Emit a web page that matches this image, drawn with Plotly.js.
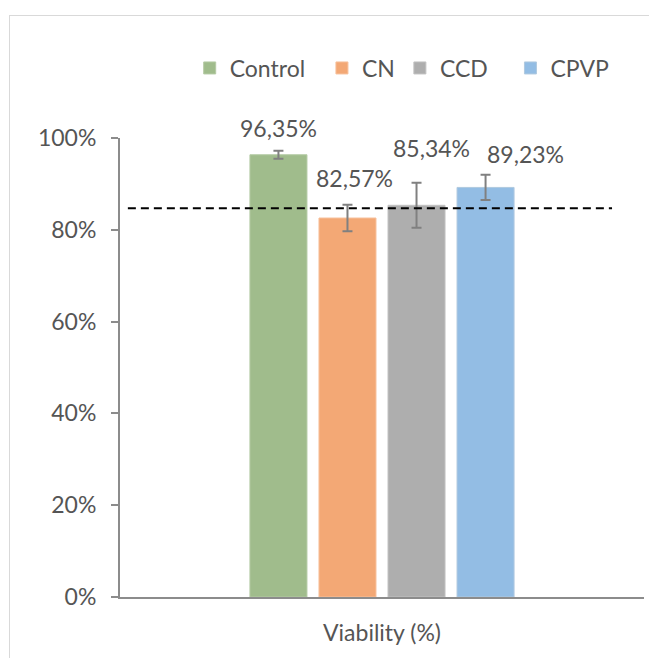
<!DOCTYPE html>
<html>
<head>
<meta charset="utf-8">
<script src="https://cdn.plot.ly/plotly-3.0.1.min.js"></script>
<style>
  html, body { margin: 0; padding: 0; background: #ffffff; }
  #wrap { position: relative; width: 649px; height: 658px; overflow: hidden; }
  #chart { position: absolute; left: 0; top: 0; width: 649px; height: 658px; }
  #frame { position: absolute; left: 9px; top: 15px; width: 720px; height: 720px;
           border: 1.5px solid #d9d9d9; pointer-events: none; box-sizing: border-box; }
</style>
</head>
<body>
<div id="wrap">
  <div id="chart"></div>
  <div id="frame"></div>
</div>
<script>
// ---- data ----
const category = "Viability (%)";
const seriesNames = ["Control", "CN", "CCD", "CPVP"];
const viability = [96.35, 82.57, 85.34, 89.23];
const errorValues = [0.85, 2.9, 4.9, 2.75];
const thresholdValue = 84.7;
const yTickValues = [0, 20, 40, 60, 80, 100];

// ---- styles ----
const colors = ["#A0BC8C", "#F3A875", "#AEAEAE", "#93BDE4"];
const outlineColors = ["#B5CBA5", "#F7C09C", "#C2C2C2", "#B0C9DF"];
const labelXShift = [-104, -28, 49, 143];
const labelYShift = [27, 40, 57, 33];
const legendPadding = [2, 0, 3, 0]; // trailing spaces for legend spacing
const FONT = "Lato, 'Open Sans', sans-serif";
const TXT = "#555555";

const traces = seriesNames.map((name, i) => ({
  type: "bar",
  name: name + "\u00a0".repeat(legendPadding[i]),
  x: [category],
  y: [viability[i]],
  marker: { color: colors[i], line: { color: outlineColors[i], width: 1 } },
  error_y: { type: "data", array: [errorValues[i]], visible: true,
             color: "#808080", thickness: 2, width: 5 },
  hoverinfo: "skip"
}));

const annotations = seriesNames.map((name, i) => ({
  x: category, xref: "x",
  y: viability[i], yref: "y",
  xshift: labelXShift[i], yshift: labelYShift[i],
  text: viability[i].toFixed(2).replace(".", ",") + "%",
  showarrow: false,
  font: { family: FONT, size: 23, color: TXT },
  xanchor: "center", yanchor: "middle"
}));

const layout = {
  width: 649, height: 658,
  margin: { l: 120, r: 5, t: 138, b: 61, pad: 0 },
  paper_bgcolor: "rgba(0,0,0,0)",
  plot_bgcolor: "rgba(0,0,0,0)",
  barmode: "group",
  bargap: 0.473,
  bargroupgap: 0.174,
  font: { family: FONT, size: 23, color: TXT },
  showlegend: true,
  legend: {
    orientation: "h",
    x: 0.133, xanchor: "left",
    y: 1.1525, yanchor: "middle",
    font: { family: FONT, size: 23, color: TXT },
    traceorder: "normal",
    itemwidth: 30,
    bgcolor: "rgba(0,0,0,0)"
  },
  xaxis: {
    type: "category",
    showline: true, linecolor: "#8c8c8c", linewidth: 2,
    ticks: "", showgrid: false, zeroline: false,
    tickfont: { family: FONT, size: 23, color: TXT },
    ticklabelstandoff: 14,
    fixedrange: true
  },
  yaxis: {
    range: [0, 100],
    tickvals: yTickValues,
    ticktext: yTickValues.map(v => v + "%"),
    showline: true, linecolor: "#8c8c8c", linewidth: 2,
    ticks: "outside", ticklen: 7, tickcolor: "#8c8c8c", tickwidth: 2,
    showgrid: false, zeroline: false,
    tickfont: { family: FONT, size: 23, color: TXT },
    ticklabelstandoff: 10,
    fixedrange: true
  },
  shapes: [{
    type: "line",
    xref: "paper", yref: "y",
    x0: 0.015, x1: 0.939,
    y0: thresholdValue, y1: thresholdValue,
    line: { color: "#000000", width: 2, dash: "8px,5px" }
  }],
  annotations: annotations
};

Plotly.newPlot("chart", traces, layout, { displayModeBar: false, staticPlot: true });
</script>
</body>
</html>
